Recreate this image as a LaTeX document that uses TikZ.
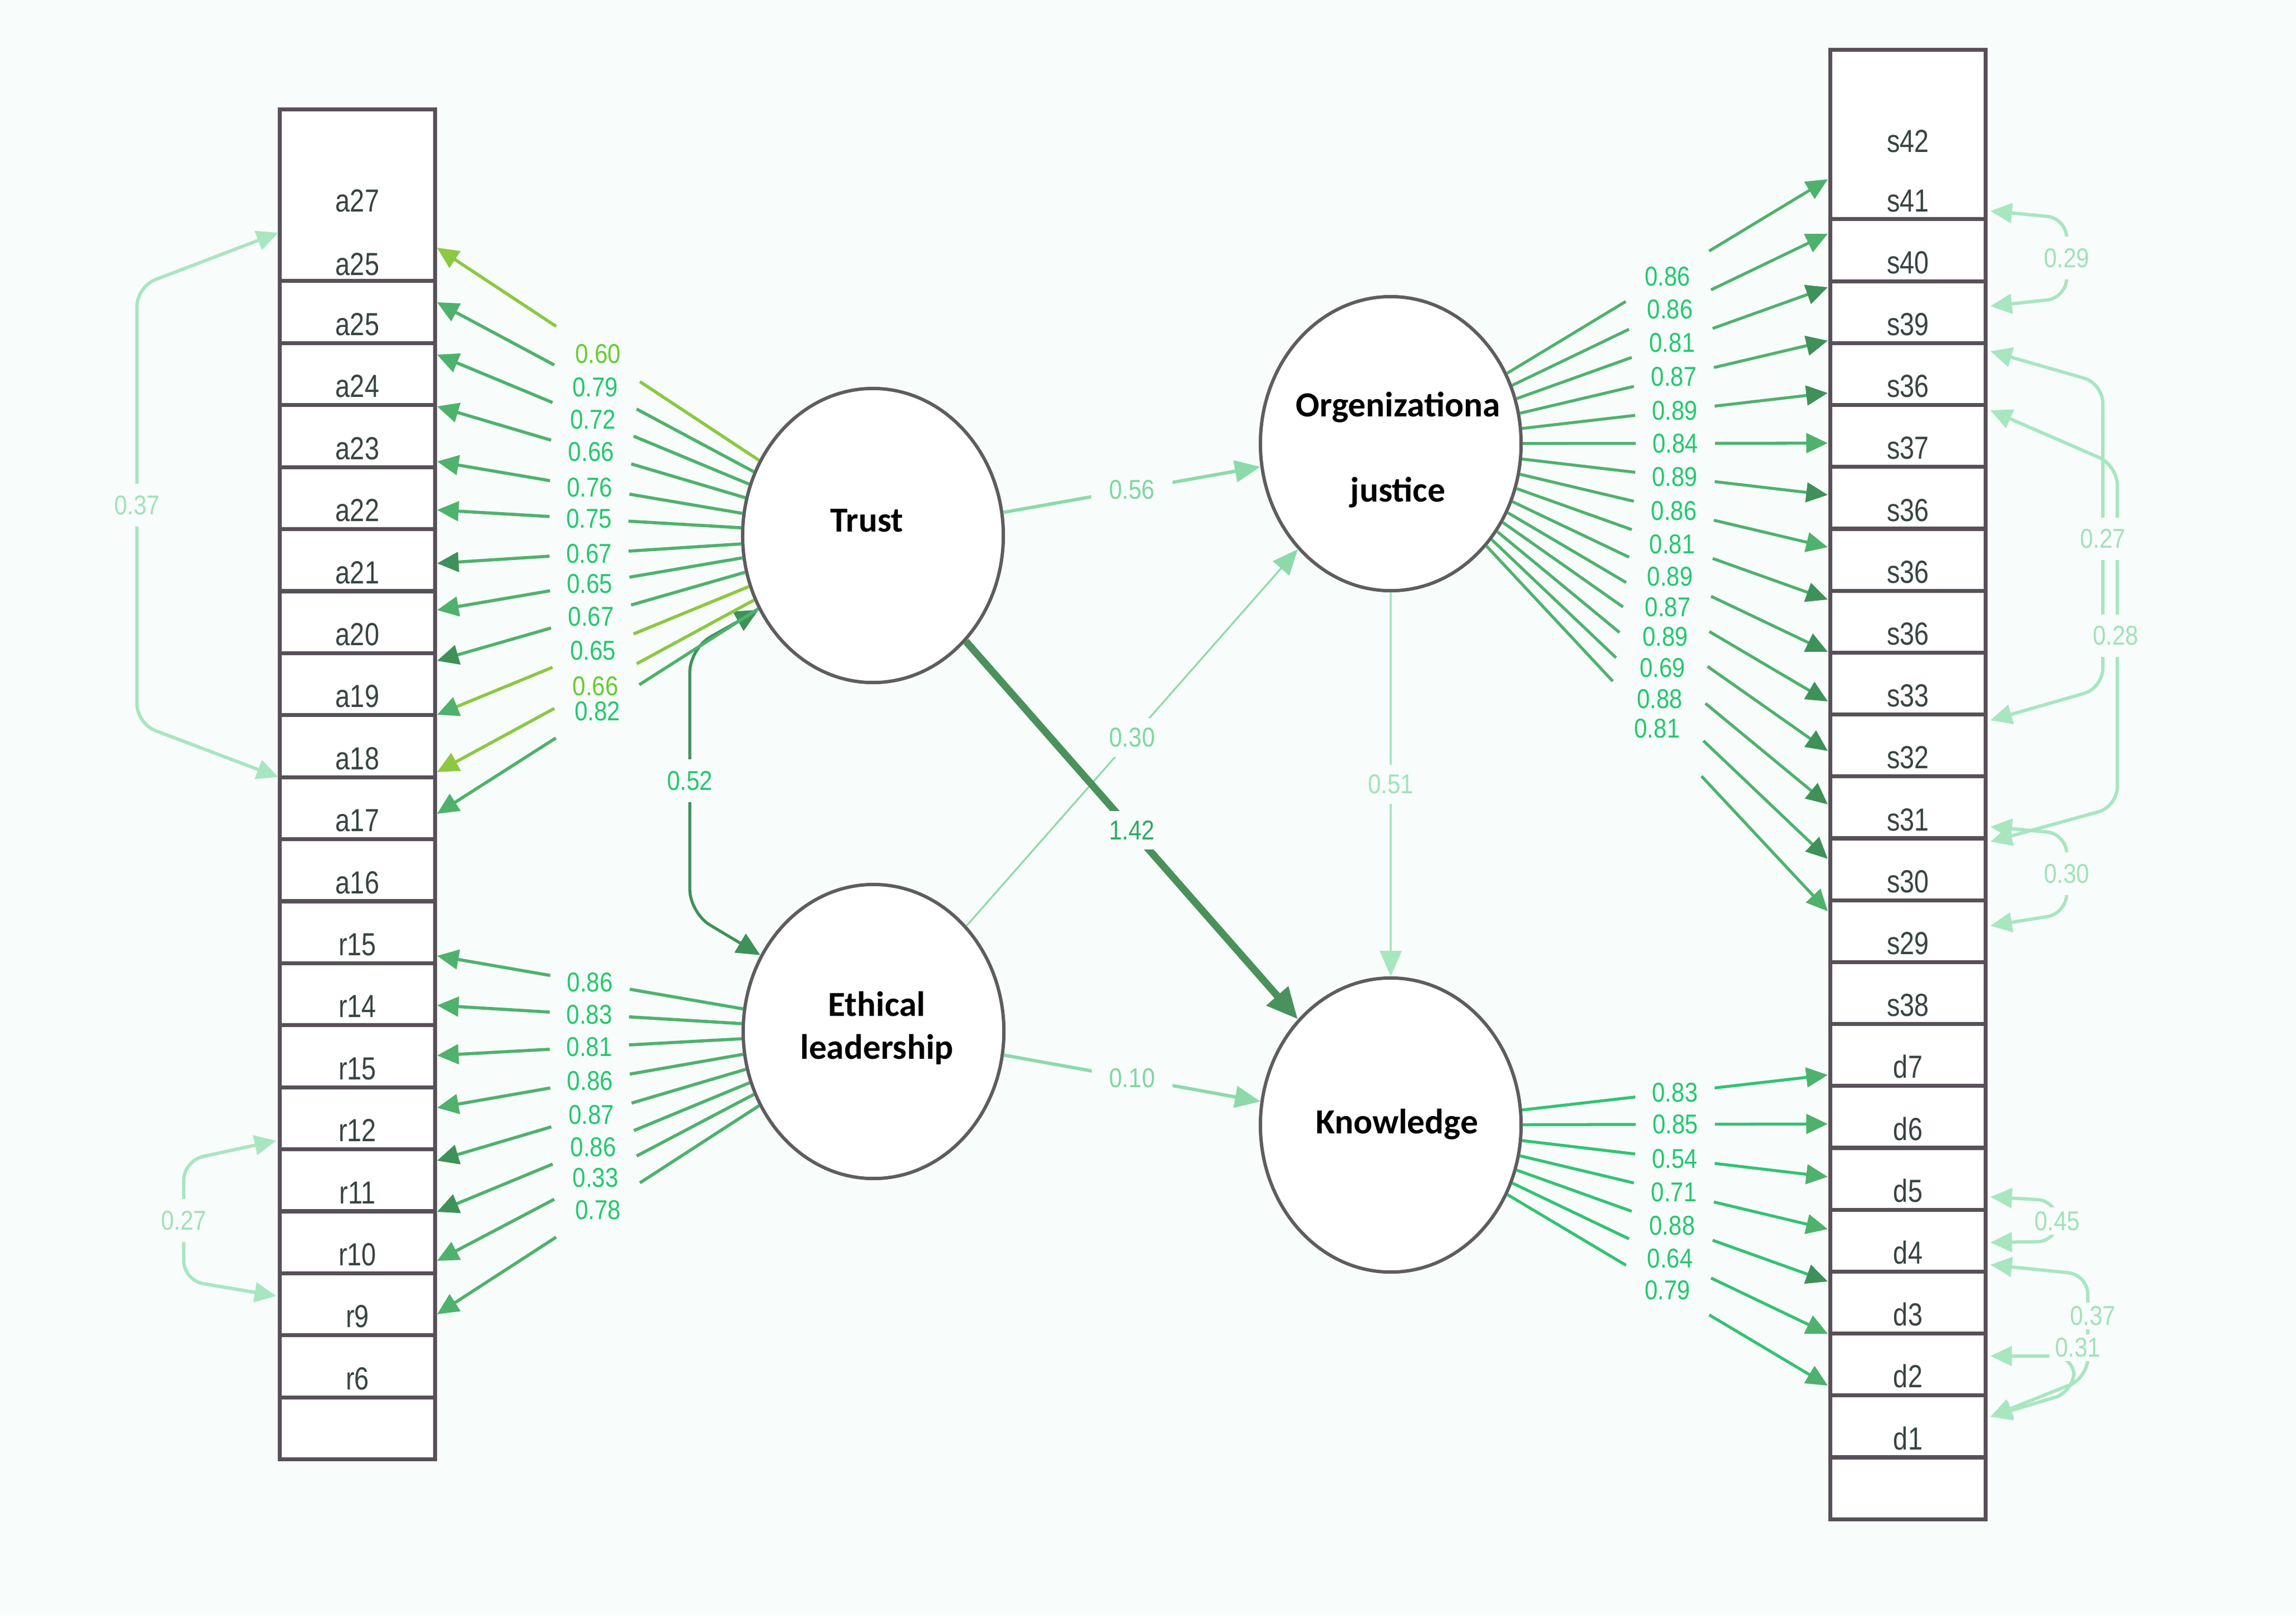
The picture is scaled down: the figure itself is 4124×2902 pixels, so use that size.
\documentclass[tikz,border=0pt]{standalone}
\usepackage{fontspec}
\usepackage{tikz}
\usetikzlibrary{shapes.geometric,arrows.meta}
\newfontfamily\latfont{Carlito}
\newfontfamily\labfont[FakeStretch=0.82]{Liberation Sans}
\newfontfamily\numfont[FakeStretch=0.86]{Liberation Sans}
\definecolor{bgC}{RGB}{248,252,251}
\definecolor{boxC}{RGB}{88,80,88}
\definecolor{ellC}{RGB}{95,92,95}
\definecolor{itemC}{RGB}{55,68,66}
\definecolor{gLime}{RGB}{140,200,65}
\definecolor{gMid}{RGB}{78,178,108}
\definecolor{gDark}{RGB}{62,145,88}
\definecolor{gBright}{RGB}{50,195,115}
\definecolor{gSoft}{RGB}{140,218,170}
\definecolor{gPale}{RGB}{168,230,192}
\definecolor{gThick}{RGB}{75,145,92}
\definecolor{txtG}{RGB}{35,200,110}
\definecolor{txtLime}{RGB}{100,205,50}
\definecolor{txtSoft}{RGB}{125,215,160}
\definecolor{txtDark}{RGB}{45,170,100}
\definecolor{txtPale}{RGB}{160,226,185}
\tikzset{
  latent/.style={ellipse, draw=ellC, line width=1.7pt, fill=white,
    minimum width=4.68cm, minimum height=5.28cm, inner sep=0pt},
  lattext/.style={align=center, inner sep=0pt,
    font=\latfont\bfseries\fontsize{18}{22}\selectfont},
  cellbox/.style={rectangle, draw=boxC, line width=2pt, fill=white,
    minimum width=2.79cm, inner sep=0pt},
  item/.style={anchor=base, inner sep=0pt, text=itemC,
    font=\labfont\fontsize{16.3}{18}\selectfont},
  coef/.style={inner sep=1pt, text=txtG,
    font=\numfont\fontsize{13.9}{16}\selectfont},
  pcoef/.style={coef, fill=bgC, inner xsep=9pt, inner ysep=5pt},
  ccoef/.style={coef, fill=bgC, inner xsep=3pt, inner ysep=6pt, text=txtPale},
  load/.style={line width=1.6pt, -{Triangle[length=11pt,width=10pt,color=#1]}},
  cov/.style={line width=1.7pt, draw=gPale, rounded corners=10pt,
    {Triangle[length=11pt,width=10pt]}-{Triangle[length=11pt,width=10pt]}},
}
\begin{document}
\begin{tikzpicture}[x=0.01cm,y=-0.01cm]
\fill[bgC] (0,0) rectangle (4124,2902);
\useasboundingbox (0,0) rectangle (4124,2902);

% left column of items
\node[cellbox, minimum height=3.08cm] (L0) at (642,351) {};
\foreach \i in {1,...,19}
  \node[cellbox, minimum height=1.114cm] (L\i) at (642,{505+111.4*(\i-0.5)}) {};
\node[item] at (642,380) {a27};
\node[item] at (642,494) {a25};
\foreach \lab [count=\i] in {a25,a24,a23,a22,a21,a20,a19,a18,a17,a16,r15,r14,r15,r12,r11,r10,r9,r6}
  \node[item] at (642,{505+111.4*\i-14}) {\lab};

% right column of items
\node[cellbox, minimum height=3.04cm] (R0) at (3427,242) {};
\foreach \i in {1,...,21}
  \node[cellbox, minimum height=1.112cm] (R\i) at (3427,{394+111.2*(\i-0.5)}) {};
\node[item] at (3427,273) {s42};
\node[item] at (3427,380) {s41};
\foreach \lab [count=\i] in {s40,s39,s36,s37,s36,s36,s36,s33,s32,s31,s30,s29,s38,d7,d6,d5,d4,d3,d2,d1}
  \node[item] at (3427,{394+111.2*\i-14}) {\lab};

% latent variables
\node[latent] (trust) at (1568,962) {};
\node[latent] (oj) at (2498,797) {};
\node[latent] (eth) at (1569,1853) {};
\node[latent] (know) at (2498,2021) {};
\node[lattext] at (1557,935) {Trust};
\node[lattext] at (2511,808) {Orgenizationa\\[21.5pt]justice};
\node[lattext] at (1575,1847) {Ethical\\leadership};
\node[lattext] at (2509,2020) {Knowledge};

% structural paths
\draw[gSoft, line width=1.7pt, -{Triangle[length=13pt,width=11pt]}] (trust) -- node[pcoef, text=txtSoft]{0.56} (oj);
\draw[gSoft, line width=0.9pt, -{Triangle[length=13pt,width=11pt]}] (eth) -- node[pcoef, text=txtSoft]{0.30} (oj);
\draw[gThick, line width=3.7pt, -{Triangle[length=16pt,width=14pt]}] (trust) -- node[pcoef, text=txtDark]{1.42} (know);
\draw[gPale, line width=1.4pt, -{Triangle[length=13pt,width=11pt]}] (oj) -- node[pcoef, text=txtPale]{0.51} (know);
\draw[gSoft, line width=1.7pt, -{Triangle[length=13pt,width=11pt]}] (eth) -- node[pcoef, text=txtSoft]{0.10} (know);

% trust with ethical leadership
\draw[gDark, line width=1.5pt, rounded corners=12pt, {Triangle[length=12pt,width=11pt]}-{Triangle[length=12pt,width=11pt]}]
  (trust.213) -- (1239,1165) -- node[ccoef, text=txtG]{0.52} (1239,1640) -- (eth.146);

% trust loadings
\foreach \ty/\val/\lc/\ac/\txc in {445/0.60/gLime/gLime/txtLime, 543/0.79/gMid/gMid/txtG,
  637/0.72/gMid/gMid/txtG, 730/0.66/gMid/gMid/txtG, 829/0.76/gMid/gMid/txtG,
  916/0.75/gMid/gMid/txtG, 1012/0.67/gMid/gDark/txtG, 1096/0.65/gMid/gMid/txtG,
  1187/0.67/gMid/gDark/txtG, 1284/0.65/gLime/gMid/txtG, 1387/0.66/gLime/gLime/txtLime,
  1462/0.82/gMid/gMid/txtG}
{
  \coordinate (tip) at (785,\ty);
  \path (trust) -- coordinate[pos=0.37] (ga) coordinate[pos=0.63] (gb) node[coef, text=\txc]{\val} (tip);
  \draw[draw=\lc, line width=1.6pt] (trust) -- (ga);
  \draw[load=\ac, draw=\lc] (gb) -- (tip);
}

% ethical leadership loadings
\foreach \ty/\val/\ac in {1717/0.86/gMid, 1806/0.83/gMid, 1896/0.81/gMid, 1990/0.86/gMid,
  2085/0.87/gDark, 2177/0.86/gDark, 2265/0.33/gMid, 2361/0.78/gMid}
{
  \coordinate (tip) at (785,\ty);
  \path (eth) -- coordinate[pos=0.37] (ga) coordinate[pos=0.63] (gb) node[coef]{\val} (tip);
  \draw[draw=gMid, line width=1.6pt] (eth) -- (ga);
  \draw[load=\ac, draw=gMid] (gb) -- (tip);
}

% organizational justice loadings
\foreach \ty/\val/\ac in {322/0.86/gMid, 420/0.86/gMid, 516/0.81/gDark, 612/0.87/gDark,
  706/0.89/gDark, 796/0.84/gMid, 889/0.89/gDark, 983/0.86/gMid, 1077/0.81/gDark,
  1171/0.89/gDark, 1260/0.87/gDark, 1349/0.89/gDark, 1445/0.69/gDark, 1543/0.88/gDark,
  1637/0.81/gMid}
{
  \coordinate (tip) at (3283,\ty);
  \path (oj) -- coordinate[pos=0.37] (ga) coordinate[pos=0.63] (gb) node[coef]{\val} (tip);
  \draw[draw=gMid, line width=1.5pt] (oj) -- (ga);
  \draw[load=\ac, draw=gMid, line width=1.5pt] (gb) -- (tip);
}

% knowledge loadings
\foreach \ty/\val/\ac in {1931/0.83/gMid, 2019/0.85/gMid, 2114/0.54/gMid, 2208/0.71/gMid,
  2302/0.88/gDark, 2396/0.64/gMid, 2489/0.79/gMid}
{
  \coordinate (tip) at (3283,\ty);
  \path (know) -- coordinate[pos=0.37] (ga) coordinate[pos=0.63] (gb) node[coef]{\val} (tip);
  \draw[draw=gBright, line width=1.5pt] (know) -- (ga);
  \draw[load=\ac, draw=gBright, line width=1.5pt] (gb) -- (tip);
}

% error covariances, left
\coordinate (ca1) at (500,418);
\coordinate (ca2) at (500,1396);
\draw[cov] (ca1) -- (246,515) -- node[ccoef]{0.37} (246,1300) -- (ca2);
\coordinate (cr1) at (496,2049);
\coordinate (cr2) at (496,2328);
\draw[cov] (cr1) -- (330,2085) -- node[ccoef]{0.27} (330,2300) -- (cr2);

% error covariances, right
\coordinate (cs41) at (3575,379);
\coordinate (cs39) at (3575,550);
\draw[cov] (cs41) -- (3712,392) -- node[ccoef]{0.29} (3712,535) -- (cs39);
\coordinate (cs36) at (3575,631);
\coordinate (cs32) at (3575,1294);
\coordinate (cs37) at (3575,737);
\coordinate (cs30) at (3575,1512);
\draw[cov] (cs36) -- (3777,689) -- (3777,1236) -- (cs32);
\draw[cov] (cs37) -- (3803,836) -- (3803,1449) -- (cs30);
\node[ccoef] at (3777,968) {0.27};
\node[ccoef] at (3800,1142) {0.28};
\coordinate (cs31) at (3575,1485);
\coordinate (cs29) at (3575,1663);
\draw[cov] (cs31) -- (3712,1498) -- node[ccoef]{0.30} (3712,1641) -- (cs29);
\coordinate (cd5) at (3575,2150);
\coordinate (cd4) at (3575,2232);
\draw[cov] (cd5) -- (3695,2157) -- node[ccoef, inner ysep=2pt]{0.45} (3695,2230) -- (cd4);
\coordinate (cd43) at (3575,2272);
\coordinate (cd2) at (3575,2436);
\coordinate (cd1) at (3575,2545);
\draw[cov] (cd43) -- (3750,2290) -- (3750,2475) -- (cd1);
\draw[cov] (cd2) -- (3725,2436) -- (3725,2500) -- (cd1);
\node[ccoef, inner ysep=2pt] at (3759,2364) {0.37};
\node[ccoef, inner ysep=2pt] at (3732,2421) {0.31};

\end{tikzpicture}
\end{document}
